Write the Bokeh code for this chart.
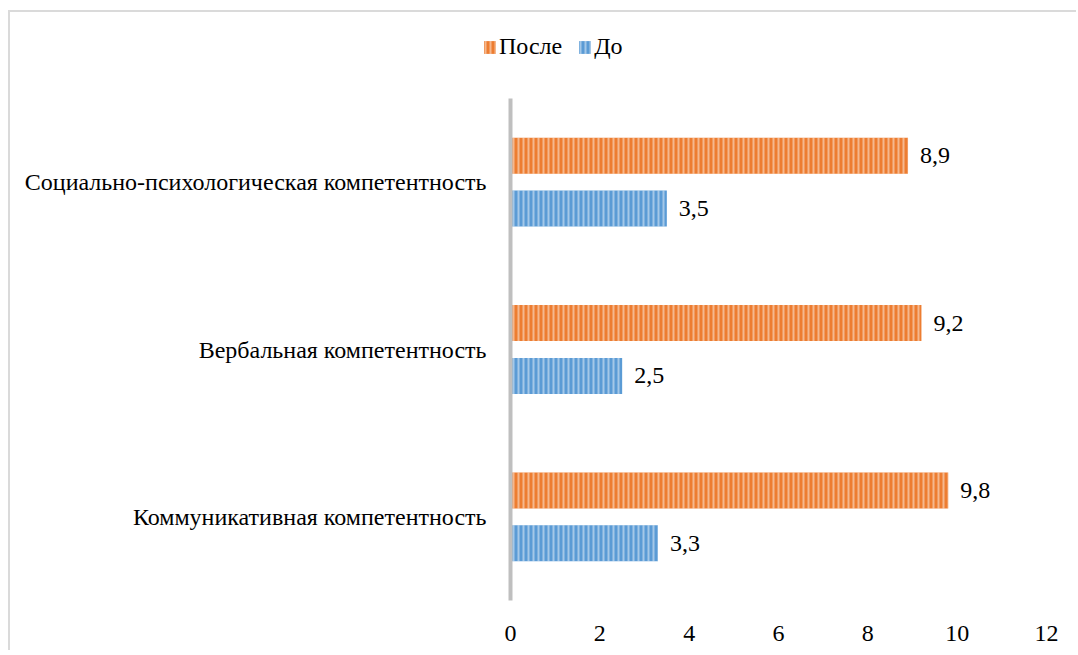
from bokeh.plotting import figure
from bokeh.layouts import column
from bokeh.models import ColumnDataSource, Legend, LegendItem, Range1d, FixedTicker
from bokeh.transform import dodge
from bokeh.core.properties import value
from bokeh.embed import file_html
from bokeh.resources import INLINE

categories = ["Коммуникативная компетентность", "Вербальная компетентность",
              "Социально-психологическая компетентность"]
after = [9.8, 9.2, 8.9]
before = [3.3, 2.5, 3.5]
series_names = ["После", "До"]
x_ticks = [0, 2, 4, 6, 8, 10, 12]

FONT = "Liberation Serif"
FS = "24px"
ORANGE = "#ED7D31"
BLUE = "#5B9BD5"

bar_style = dict(line_color=None, hatch_pattern="vertical_line", hatch_color="white",
                 hatch_alpha=0.45, hatch_scale=5, hatch_weight=2)

src = ColumnDataSource(dict(
    cat=categories,
    after=after,
    before=before,
    after_lbl=[f"{v:.1f}".replace(".", ",") for v in after],
    before_lbl=[f"{v:.1f}".replace(".", ",") for v in before],
))

# ---- main chart ----
p = figure(width=1066, height=552, y_range=categories, x_range=Range1d(0, 12),
           output_backend="svg", toolbar_location=None,
           min_border_left=500, min_border_right=30, min_border_top=0, min_border_bottom=50)
p.outline_line_color = None
p.background_fill_color = "white"
p.border_fill_color = "white"
p.frame_align = False

bh = 0.215
off = 0.158
p.hbar(y=dodge("cat", off, range=p.y_range), right="after", left=0, height=bh,
       source=src, fill_color=ORANGE, **bar_style)
p.hbar(y=dodge("cat", -off, range=p.y_range), right="before", left=0, height=bh,
       source=src, fill_color=BLUE, **bar_style)

p.text(x="after", y=dodge("cat", off, range=p.y_range), text="after_lbl", source=src,
       x_offset=12, text_baseline="middle", text_align="left",
       text_font=value(FONT), text_font_size=FS, text_color="#000000")
p.text(x="before", y=dodge("cat", -off, range=p.y_range), text="before_lbl", source=src,
       x_offset=12, text_baseline="middle", text_align="left",
       text_font=value(FONT), text_font_size=FS, text_color="#000000")

p.xgrid.grid_line_color = None
p.ygrid.grid_line_color = None

p.xaxis.ticker = FixedTicker(ticks=x_ticks)
p.xaxis.axis_line_color = None
p.xaxis.major_tick_line_color = None
p.xaxis.minor_tick_line_color = None
p.xaxis.major_label_text_font = FONT
p.xaxis.major_label_text_font_size = FS
p.xaxis.major_label_text_color = "#000000"
p.xaxis.major_label_standoff = 19

p.yaxis.axis_line_color = "#BFBFBF"
p.yaxis.axis_line_width = 4
p.yaxis.major_tick_line_color = None
p.yaxis.minor_tick_line_color = None
p.yaxis.major_label_text_font = FONT
p.yaxis.major_label_text_font_size = FS
p.yaxis.major_label_text_color = "#000000"
p.yaxis.major_label_standoff = 18

# ---- legend strip above the chart (key swatches only; data lies outside its view) ----
lg = figure(width=1066, height=86, x_axis_type=None, y_axis_type=None,
            x_range=Range1d(0, 1), y_range=Range1d(0, 1),
            output_backend="svg", toolbar_location=None, min_border=0)
lg.outline_line_color = None
lg.xgrid.grid_line_color = None
lg.ygrid.grid_line_color = None
lg.frame_align = False
key_src = ColumnDataSource(dict(y=[-10.0], right=[-5.0]))
r_after = lg.hbar(y="y", right="right", left=-6.0, height=0.1, source=key_src,
                  fill_color=ORANGE, **bar_style)
r_before = lg.hbar(y="y", right="right", left=-6.0, height=0.1, source=key_src,
                   fill_color=BLUE, **bar_style)
legend = Legend(items=[LegendItem(label=series_names[0], renderers=[r_after], index=0),
                       LegendItem(label=series_names[1], renderers=[r_before], index=0)],
                orientation="horizontal", location=(472, 38),
                label_text_font=FONT, label_text_font_size=FS, label_text_color="#000000",
                glyph_width=15, glyph_height=16, label_standoff=2, spacing=15,
                label_height=26, border_line_color=None, background_fill_alpha=0,
                padding=0, margin=0)
lg.add_layout(legend, "center")

page = column(lg, p, spacing=0, margin=(10, 0, 0, 8),
              styles={"border-top": "2px solid #DADADA", "border-left": "2px solid #DADADA"})

open("out.html", "w").write(file_html(page, INLINE))
